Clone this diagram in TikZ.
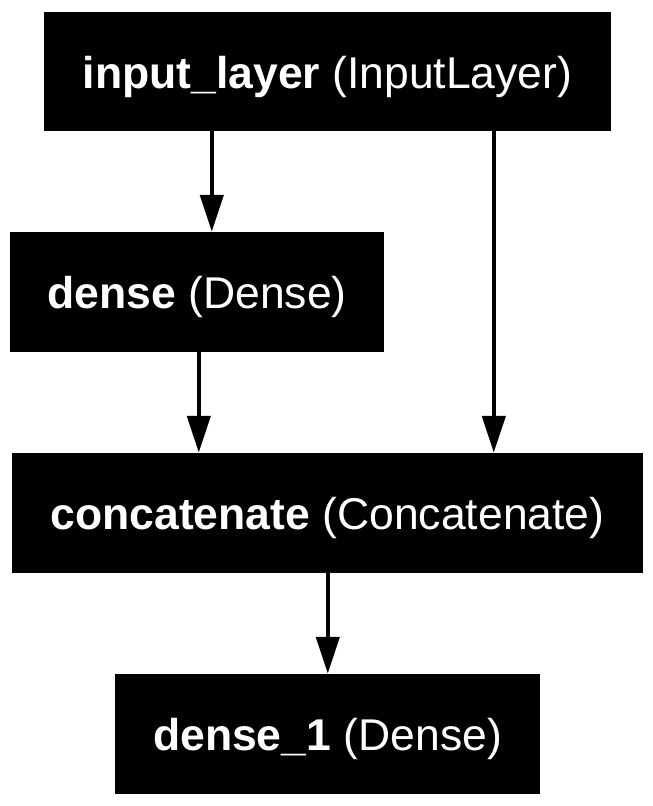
\documentclass[tikz,border=0pt]{standalone}
\usepackage{fontspec}
\setmainfont{Liberation Sans}
\usetikzlibrary{arrows.meta}
\tikzset{
  layer/.style={fill=black, draw=none, text=white, inner sep=0pt, text height=33pt, text depth=0pt, font=\fontsize{44.5}{53}\selectfont},
  arr/.style={line width=4.6pt, -{Triangle[length=37pt,width=23pt]}}
}
\begin{document}
\begin{tikzpicture}[x=1pt,y=1pt]
\useasboundingbox (0,0) rectangle (653,-806);
\node[layer, minimum width=567pt, minimum height=119pt] (in) at (327.5,-71.5) {\textbf{input\_layer} (InputLayer)};
\node[layer, minimum width=374pt, minimum height=120pt] (d) at (197,-292) {\textbf{dense} (Dense)};
\node[layer, minimum width=631pt, minimum height=120pt] (c) at (327.5,-513) {\textbf{concatenate} (Concatenate)};
\node[layer, minimum width=425pt, minimum height=120pt] (d1) at (327.5,-734) {\textbf{dense\_1} (Dense)};
\draw[arr] ([xshift=168pt]in.south west) -- ([xshift=202pt]d.north west);
\draw[arr] ([xshift=450pt]in.south west) -- ([xshift=482pt]c.north west);
\draw[arr] ([xshift=189pt]d.south west) -- ([xshift=187pt]c.north west);
\draw[arr] ([xshift=316pt]c.south west) -- ([xshift=213pt]d1.north west);
\end{tikzpicture}
\end{document}
